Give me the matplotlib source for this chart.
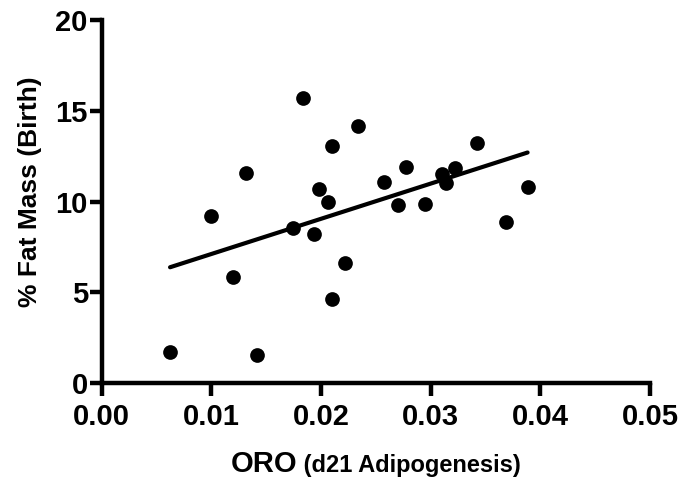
import numpy as np
import matplotlib
matplotlib.use("Agg")
import matplotlib.pyplot as plt
from matplotlib import font_manager

oro = [0.00623, 0.00996, 0.01197, 0.01318, 0.01418, 0.01747, 0.01838, 0.01933,
       0.01981, 0.02066, 0.02099, 0.02099, 0.02215, 0.02339, 0.02571, 0.02698,
       0.02774, 0.02944, 0.03099, 0.03139, 0.03223, 0.03418, 0.03683, 0.03883]
fat = [1.71, 9.19, 5.85, 11.59, 1.56, 8.57, 15.72, 8.20,
       10.68, 9.96, 13.06, 4.62, 6.62, 14.18, 11.06, 9.81,
       11.92, 9.87, 11.52, 11.04, 11.85, 13.24, 8.86, 10.82]
xticks = [0.00, 0.01, 0.02, 0.03, 0.04, 0.05]
yticks = [0, 5, 10, 15, 20]

names = {f.name for f in font_manager.fontManager.ttflist}
tick_font = "Liberation Sans Narrow" if "Liberation Sans Narrow" in names else "Liberation Sans"

W, H = 680, 482
fig = plt.figure(figsize=(W / 100, H / 100), dpi=100)
ax = fig.add_axes([0.1496, 0.2048, 0.8064, 0.7537])

ax.scatter(oro, fat, s=112, color="black", zorder=3, linewidths=0)
slope, intercept = np.polyfit(oro, fat, 1)
xl = np.array([min(oro), max(oro)])
ax.plot(xl, slope * xl + intercept, color="black", lw=3, solid_capstyle="round", zorder=2)

ax.set_xlim(0, 0.05)
ax.set_ylim(0, 20)
ax.set_xticks(xticks)
ax.set_xticklabels([f"{v:.2f}" for v in xticks])
ax.set_yticks(yticks)
ax.set_yticklabels([str(v) for v in yticks])
for s in ["top", "right"]:
    ax.spines[s].set_visible(False)
for s in ["left", "bottom"]:
    ax.spines[s].set_linewidth(3.2)
    ax.spines[s].set_capstyle("projecting")
ax.tick_params(axis="both", length=9, width=3.2, direction="out")
ax.tick_params(axis="x", pad=5)
ax.tick_params(axis="y", pad=1)
for lab in ax.get_xticklabels() + ax.get_yticklabels():
    lab.set_fontfamily(tick_font)
    lab.set_fontweight("bold")
    lab.set_fontsize(21)

ax.set_ylabel("% Fat Mass (Birth)", fontfamily="Liberation Sans", fontweight="bold",
              fontsize=19)
ax.yaxis.set_label_coords(-0.109, 0.527)

ybase = 1 - 472 / H
t1 = fig.text(0, ybase, "ORO", fontfamily="Liberation Sans", fontweight="bold",
              fontsize=21, ha="left", va="baseline")
t2 = fig.text(0, ybase, " (d21 Adipogenesis)", fontfamily="Liberation Sans",
              fontweight="bold", fontsize=17, ha="left", va="baseline")
fig.canvas.draw()
r = fig.canvas.get_renderer()
w1 = t1.get_window_extent(r).width
w2 = t2.get_window_extent(r).width
cx = (101.7 + 650) / 2
x0 = cx - (w1 + w2) / 2
t1.set_x(x0 / W)
t2.set_x((x0 + w1) / W)

fig.savefig("out.png", dpi=100)
